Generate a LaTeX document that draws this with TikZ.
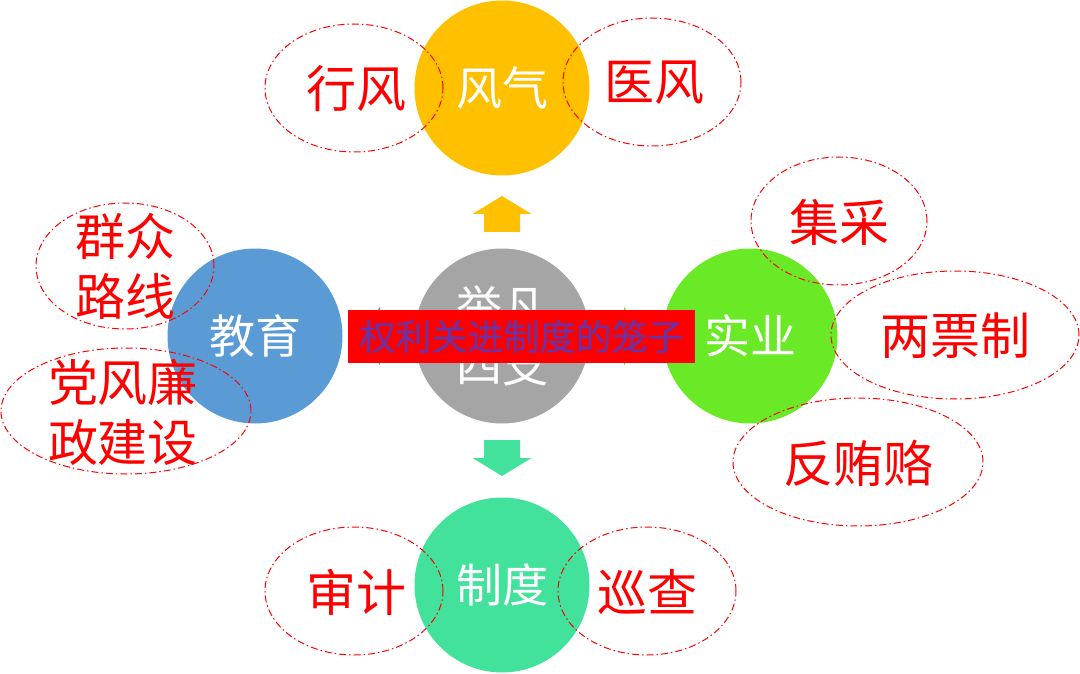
\documentclass[tikz,border=0pt]{standalone}
\usepackage{fontspec}
\setmainfont{Noto Sans CJK SC}
\newfontfamily\cagefont[FakeBold=0.6]{Noto Sans CJK SC}
\definecolor{qiyellow}{HTML}{FFC000}
\definecolor{jiaoblue}{HTML}{5B9BD5}
\definecolor{zhonggray}{HTML}{A5A5A5}
\definecolor{shigreen}{HTML}{6AEA26}
\definecolor{zhiteal}{HTML}{42E29C}
\definecolor{cagepurple}{HTML}{7030A0}
\tikzset{
  ball/.style={circle,minimum size=175pt,inner sep=0pt,text=white,align=center,
    font=\fontsize{46}{58}\selectfont},
  tagtext/.style={inner sep=0pt,text=red,align=center,font=\fontsize{50}{60}\selectfont},
  tagline/.style={draw=red,line width=1pt,dash pattern=on 7pt off 3pt on 1.5pt off 3pt},
}
\begin{document}
\begin{tikzpicture}[x=1pt,y=-1pt]
    \useasboundingbox (0,0) rectangle (1080,674);
    % circles
    \node[ball,fill=qiyellow] (fengqi) at (502,88) {风气};
    \node[ball,fill=jiaoblue] (jiaoyu) at (255,336) {教育};
    \node[ball,fill=zhonggray] (zhong) at (502,336) {举凡\\四支};
    \node[ball,fill=shigreen] (shiye) at (750,336) {实业};
    \node[ball,fill=zhiteal] (zhidu) at (502,585) {制度};
    % arrows
    \foreach \a/\c in {90/qiyellow,270/zhiteal,180/jiaoblue,0/shigreen}{
        \fill[\c,shift={(zhong)},rotate=\a] (104,-18)--(122,-18)--(122,-29.5)%
        --(140,0)--(122,29.5)--(122,18)--(104,18)--cycle;
    }
    % tags
    \node[tagtext] (xingfeng) at (356,89) {行风};
    \node[tagtext] (yifeng) at (654,83) {医风};
    \node[tagtext] (qunzhong) at (125,266) {群众\\路线};
    \node[tagtext] (dangfeng) at (123,412) {党风廉\\政建设};
    \node[tagtext] (jicai) at (839,222) {集采};
    \node[tagtext] (liangpiao) at (955,336) {两票制};
    \node[tagtext] (fanhuilu) at (858,463) {反贿赂};
    \node[tagtext] (shenji) at (356,592) {审计};
    \node[tagtext] (xuncha) at (647,592) {巡查};
    \draw[tagline] (354,88) ellipse [x radius=89pt,y radius=64pt];%xingfeng
    \draw[tagline] (652,82) ellipse [x radius=89pt,y radius=64pt];%yifeng
    \draw[tagline] (125,266) ellipse [x radius=89pt,y radius=63pt];%qunzhong
    \draw[tagline] (126,411) ellipse [x radius=125pt,y radius=63pt];%dangfeng
    \draw[tagline] (839,221) ellipse [x radius=88pt,y radius=64pt];%jicai
    \draw[tagline] (955,335) ellipse [x radius=124pt,y radius=64pt];%liangpiao
    \draw[tagline] (858,462) ellipse [x radius=125pt,y radius=64pt];%fanhuilu
    \draw[tagline] (354,591) ellipse [x radius=89pt,y radius=64pt];%shenji
    \draw[tagline] (647,591) ellipse [x radius=89pt,y radius=64pt];%xuncha
    % banner
    \node[fill=red,minimum width=347pt,minimum height=53pt,inner sep=0pt,
        text=cagepurple,font=\fontsize{36}{40}\cagefont] (cage) at (521.5,336.5) {权利关进制度的笼子};
\end{tikzpicture}
\end{document}
